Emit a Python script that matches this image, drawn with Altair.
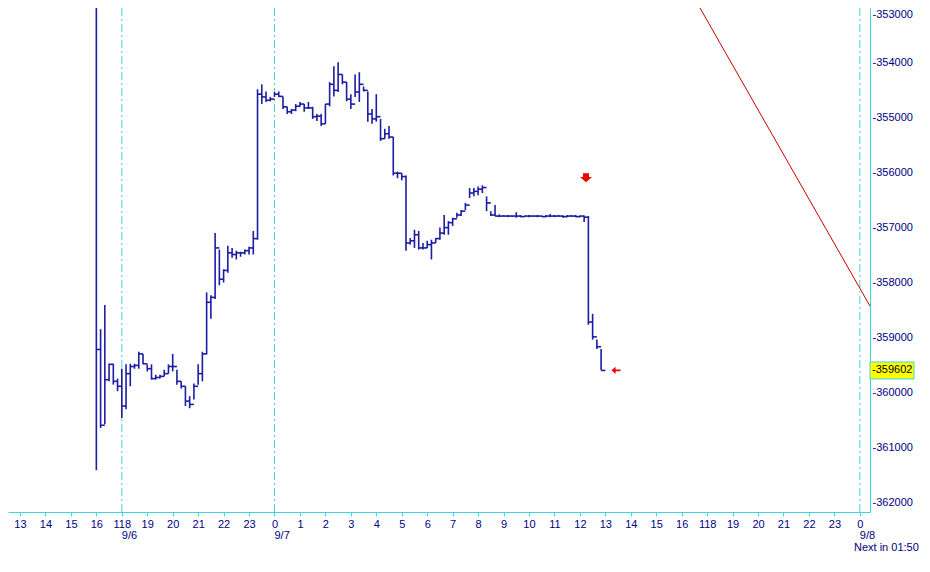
import altair as alt
import pandas as pd

# 10-minute bars on a trading-hour index (0 = 13:00 on 9/5; the 17:00-18:00 break is removed)
first_bar = 3.0          # 16:00 on 9/5
bar_step = 1 / 6         # 10 minutes

highs = [-352590, -358850, -358410, -359480, -359480, -359750, -359570, -359490, -359480, -359480,
         -359260, -359300, -359490, -359490, -359680, -359680, -359590, -359490, -359300, -359590,
         -359800, -359890, -360070, -359840, -359490, -359260, -358180, -358230, -357100, -357400,
         -357760, -357330, -357370, -357420, -357440, -357400, -357350, -357060, -354480, -354390,
         -354520, -354620, -354530, -354520, -354610, -354800, -354840, -354750, -354710, -354750,
         -354710, -354800, -354930, -354930, -354750, -354350, -354060, -353990, -354210, -354350,
         -354570, -354210, -354170, -354430, -354520, -354840, -354570, -355020, -355200, -355150,
         -355350, -355980, -356010, -356050, -357190, -357040, -357060, -357280, -357240, -357220,
         -357190, -357000, -356770, -356880, -356820, -356730, -356680, -356550, -356280, -356280,
         -356250, -356230, -356430, -356700, -356590, -356760, -356770, -356770, -356780, -356720,
         -356770, -356780, -356770, -356780, -356770, -356780, -356770, -356750, -356770, -356770,
         -356780, -356770, -356770, -356770, -356780, -356780, -356790, -358570, -359040, -359210]

lows = [-361420, -360650, -360580, -359800, -359860, -359980, -360470, -360310, -359890, -359570,
        -359570, -359490, -359620, -359770, -359770, -359750, -359710, -359660, -359620, -359860,
        -359930, -360250, -360290, -360130, -359860, -359800, -359310, -358660, -358300, -358050,
        -358000, -357820, -357550, -357580, -357530, -357490, -357490, -357490, -357220, -354750,
        -354710, -354700, -354620, -354620, -354840, -354930, -354930, -354880, -354800, -354890,
        -354840, -355020, -355060, -355150, -355110, -354790, -354610, -354530, -354390, -354700,
        -354840, -354620, -354710, -354520, -355070, -355110, -355070, -355420, -355380, -355380,
        -356050, -356100, -356140, -357420, -357310, -357370, -357400, -357400, -357370, -357580,
        -357280, -357220, -357130, -357130, -356970, -356820, -356790, -356680, -356460, -356430,
        -356410, -356370, -356700, -356790, -356790, -356810, -356800, -356810, -356800, -356820,
        -356810, -356800, -356810, -356800, -356810, -356800, -356810, -356810, -356810, -356800,
        -356820, -356810, -356800, -356810, -356810, -356900, -358770, -359040, -359210, -359600]

closes = [-359220, -360600, -359770, -359490, -359800, -359890, -360250, -359660, -359530, -359510,
          -359300, -359480, -359570, -359750, -359730, -359710, -359660, -359530, -359530, -359800,
          -359890, -360160, -360220, -359890, -359660, -359300, -358360, -358270, -357370, -357940,
          -357780, -357460, -357490, -357460, -357460, -357420, -357370, -357200, -354570, -354620,
          -354680, -354660, -354570, -354610, -354800, -354890, -354860, -354790, -354750, -354820,
          -354820, -354980, -354970, -355110, -354750, -354390, -354500, -354210, -354350, -354660,
          -354750, -354530, -354390, -354500, -354930, -355020, -354980, -355380, -355290, -355350,
          -356010, -356010, -356070, -357280, -357240, -357130, -357370, -357370, -357310, -357280,
          -357200, -357100, -357000, -356910, -356840, -356770, -356700, -356590, -356370, -356340,
          -356300, -356270, -356550, -356770, -356790, -356790, -356790, -356790, -356790, -356790,
          -356800, -356790, -356790, -356790, -356790, -356800, -356790, -356790, -356790, -356790,
          -356800, -356790, -356790, -356800, -356790, -356810, -358720, -358990, -359170, -359602]

hour_labels = ["13", "14", "15", "16", "118", "19", "20", "21", "22", "23",
               "0", "1", "2", "3", "4", "5", "6", "7", "8", "9", "10", "11", "12",
               "13", "14", "15", "16", "118", "19", "20", "21", "22", "23", "0"]
day_lines = [4, 10, 33]
date_labels = ["9/6", "9/7", "9/8"]
y_ticks = [-362000, -361000, -360000, -359000, -358000, -357000, -356000,
           -355000, -354000, -353000]

trend_t = [26.72, 33.40]
trend_v = [-353000, -358430]

down_arrow_t, down_arrow_v = 22.24, -356090
left_arrow_t, left_arrow_v = 23.42, -359600
last_price = -359602

CYAN = "#3cd6dc"
NAVY = "#000080"
BLUE = "#1c1ca4"
RED = "#cc0000"
FONT = "Liberation Sans"

bars = pd.DataFrame({
    "t": [first_bar + i * bar_step for i in range(len(closes))],
    "high": highs, "low": lows, "close": closes,
})
bars["t2"] = bars["t"] + bar_step

xscale = alt.Scale(domain=[-0.4715, 33.399], nice=False, zero=False)
yscale = alt.Scale(domain=[-362180, -353000], nice=False, zero=False)

label_array = "[" + ",".join("'" + s + "'" for s in hour_labels) + "]"
xaxis = alt.Axis(values=list(range(len(hour_labels))), labelExpr=label_array + "[datum.value]",
                 title=None, grid=False, domainColor=CYAN, tickColor=CYAN, tickSize=4,
                 labelColor=NAVY, labelFont=FONT, labelFontSize=11, labelPadding=2,
                 labelOverlap=False, labelFlush=False, labelBound=False)
yaxis = alt.Axis(orient="right", values=y_ticks, labelExpr="'-' + format(-datum.value, 'd')",
                 title=None, grid=False, domainColor=CYAN, ticks=False, labelPadding=2,
                 labelColor=NAVY, labelFont=FONT, labelFontSize=11, labelOverlap=False,
                 labelFlush=False, labelBound=False,
                 labelBaseline={"condition": {"test": "datum.value >= -353000", "value": "top"},
                                "value": "middle"})


def X(field):
    return alt.X(field, type="quantitative", scale=xscale, axis=xaxis)


def Y(field):
    return alt.Y(field, type="quantitative", scale=yscale, axis=yaxis)


days = pd.DataFrame({"t": day_lines, "label": date_labels})
day_rules = alt.Chart(days).mark_rule(color=CYAN, strokeWidth=1, strokeDash=[8, 3, 2, 3]).encode(x=X("t"))

hl = alt.Chart(bars).mark_rule(color=BLUE, strokeWidth=1.6).encode(
    x=X("t"), y=Y("low"), y2="high")
cl = alt.Chart(bars).mark_rule(color=BLUE, strokeWidth=1.6).encode(
    x=X("t"), x2="t2", y=Y("close"))

trend = pd.DataFrame({"t": [trend_t[0]], "t2": [trend_t[1]], "v": [trend_v[0]], "v2": [trend_v[1]]})
trend_line = alt.Chart(trend).mark_rule(color=RED, strokeWidth=1).encode(
    x=X("t"), x2="t2", y=Y("v"), y2="v2")

down_shape = "M-0.5,-0.75 L0.5,-0.75 L0.5,-0.1 L1,-0.1 L0,0.75 L-1,-0.1 L-0.5,-0.1 Z"
left_shape = "M-1,0 L-0.1,-0.8 L-0.1,-0.2 L1,-0.2 L1,0.2 L-0.1,0.2 L-0.1,0.8 Z"
down_arrow = alt.Chart(pd.DataFrame({"t": [down_arrow_t], "v": [down_arrow_v]})).mark_point(
    shape=down_shape, size=144, filled=True, color="#ee0000", opacity=1).encode(x=X("t"), y=Y("v"))
left_arrow = alt.Chart(pd.DataFrame({"t": [left_arrow_t], "v": [left_arrow_v]})).mark_point(
    shape=left_shape, size=81, filled=True, color="#ee0000", opacity=1).encode(x=X("t"), y=Y("v"))

price = pd.DataFrame({"v": [last_price], "label": ["-" + str(-last_price)]})
price_box = alt.Chart(price).mark_point(
    shape="M-1,-0.386 L1,-0.386 L1,0.386 L-1,0.386 Z", size=1936, filled=True,
    fill="#ffff00", stroke=CYAN, strokeWidth=1, opacity=1).encode(x=alt.value(884), y=Y("v"))
price_text = alt.Chart(price).mark_text(
    align="left", baseline="middle", font=FONT, fontSize=11, color="#000000").encode(
    x=alt.value(864), y=Y("v"), text="label:N")

date_text = alt.Chart(days).mark_text(
    align="left", baseline="middle", font=FONT, fontSize=11, color=NAVY).encode(
    x=X("t"), y=alt.value(528), text="label:N")
next_text = alt.Chart(pd.DataFrame({"s": ["Next in 01:50"]})).mark_text(
    align="left", baseline="middle", font=FONT, fontSize=11, color=NAVY).encode(
    x=alt.value(846), y=alt.value(539.5), text="s:N")

chart = alt.layer(day_rules, hl, cl, trend_line, down_arrow, left_arrow,
                  price_box, price_text, date_text, next_text).properties(
    width=862, height=504,
    autosize=alt.AutoSizeParams(type="none"),
    padding={"left": 0, "top": 0, "right": 52, "bottom": 52},
    background="white",
).configure_view(stroke=None)

chart.save("out.html", embed_options={"renderer": "svg", "actions": False})
